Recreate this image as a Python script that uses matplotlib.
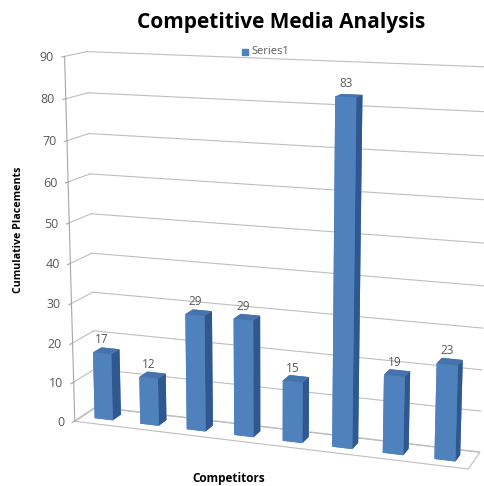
import matplotlib
matplotlib.use("Agg")
import matplotlib.pyplot as plt
import matplotlib.transforms as mtransforms
import numpy as np
from mpl_toolkits.mplot3d.art3d import Poly3DCollection

# ---------------- data ----------------
categories = ["C1", "C2", "C3", "C4", "C5", "C6", "C7", "C8"]
values = [17, 12, 29, 29, 15, 83, 19, 23]
yticks = [0, 10, 20, 30, 40, 50, 60, 70, 80, 90]
series_name = "Series1"
title = "Competitive Media Analysis"
ylabel = "Cumulative Placements"
xlabel = "Competitors"

# ---------------- style ----------------
FRONT = "#4F81BD"
TOP = "#4673AC"
SIDE = "#2F5890"
GRID = "#BEBEBE"
AXC = "#A6A6A6"
TXT = "#595959"
FONT = "Open Sans"

W, H = 485, 486
fig = plt.figure(figsize=(W / 100, H / 100), dpi=100)
side0 = 300
rect0 = [(W - side0) / 2 / W, (H - side0) / 2 / H, side0 / W, side0 / H]
ax = fig.add_axes(rect0, projection="3d", computed_zorder=False)
ax.set_axis_off()

n = len(values)
x0, x1 = -0.5, n - 0.5
y0, y1 = 0.0, 1.0
z0, z1 = yticks[0], yticks[-1]
BAR_W, BAR_D = 0.4, 0.4
yb = (y1 - y0 - BAR_D) / 2


def set_limits():
    ax.set_xlim(x0, x1)
    ax.set_ylim(y0, y1)
    ax.set_zlim(z0, z1)


set_limits()

# ---- camera fit: frame corners -> where they sit in the reference (px) ----
frame3d = np.array([[x0, y0, z1], [x0, y0, z0], [x1, y0, z0],
                    [x0, y1, z0], [x1, y1, z0], [x0, y1, z1]], float)
frame_px = np.array([[62, 57], [77, 420], [467, 468],
                     [95, 408], [480, 452], [88, 51]], float)
targets = np.column_stack([frame_px[:, 0], H - frame_px[:, 1]])

fig.canvas.draw()
T = ax.transData
bb = ax.get_position().transformed(fig.transFigure)
c0 = np.array([(bb.x0 + bb.x1) / 2, (bb.y0 + bb.y1) / 2])
side_act = bb.width
hom = np.column_stack([frame3d, np.ones(len(frame3d))])


def project(p):
    elev, azim, f, ay, az = p
    ax.view_init(elev=elev, azim=azim)
    ax.set_proj_type("persp", focal_length=f)
    ax.set_box_aspect((1, ay, az))
    M = ax.get_proj()
    P = hom @ M.T
    uv = P[:, :2] / P[:, 3:4]
    return T.transform(uv)


def cost(p):
    if p[2] <= 0.05 or p[3] <= 0.005 or p[4] <= 0.1:
        return 1e18, 1, c0
    d = project(p)
    q = d - c0
    qm, tm = q.mean(0), targets.mean(0)
    qc, tc = q - qm, targets - tm
    s = (qc * tc).sum() / (qc * qc).sum()
    c = tm - s * qm
    r = c + s * q - targets
    return (r ** 2).sum(), s, c


best = None
for e in range(6, 36, 4):
    for a in range(-86, -56, 4):
        for f in (0.2, 0.3, 0.45, 0.7, 1.0, 1.6):
            for ay in (0.04, 0.07, 0.1, 0.15):
                for az in (0.6, 0.75, 0.9, 1.05):
                    p = [e, a, f, ay, az]
                    cval = cost(p)[0]
                    if best is None or cval < best[0]:
                        best = (cval, p)

p = list(best[1])
steps = [2.0, 2.0, 0.1, 0.02, 0.08]
cur = cost(p)[0]
for _ in range(60):
    improved = False
    for k in range(5):
        for sgn in (1, -1):
            q = list(p)
            q[k] += sgn * steps[k]
            cq = cost(q)[0]
            if cq < cur:
                p, cur, improved = q, cq, True
    if not improved:
        steps = [s_ / 2 for s_ in steps]

_, s_fit, c_fit = cost(p)
side = s_fit * side_act
ax.set_position([(c_fit[0] - side / 2) / W, (c_fit[1] - side / 2) / H,
                 side / W, side / H])

# ---------------- walls, grid, axis ----------------
floor = Poly3DCollection([[(x0, y0, z0), (x1, y0, z0), (x1, y1, z0), (x0, y1, z0)]],
                         facecolor="white", edgecolor=GRID, linewidth=0.8,
                         zorder=0.5)
ax.add_collection3d(floor)

tick_len = 0.12
for v in yticks:
    ax.plot([x0, x1], [y1, y1], [v, v], color=GRID, lw=0.8, zorder=1)
    ax.plot([x0, x0], [y0, y1], [v, v], color=GRID, lw=0.8, zorder=1)
    ax.plot([x0, x0], [y0 - tick_len, y0], [v, v], color=AXC, lw=0.8, zorder=1)
ax.plot([x0, x0], [y0, y0], [z0, z1], color=AXC, lw=0.8, zorder=1.2)

# ---------------- bars ----------------
xs = np.arange(n) - BAR_W / 2
ys = np.full(n, yb)
zs = np.zeros(n)
face_cols = []
for _ in range(n):
    # faces: -z, +z, -y, +y, -x, +x
    face_cols += [FRONT, TOP, FRONT, FRONT, FRONT, SIDE]
ax.bar3d(xs, ys, zs, BAR_W, BAR_D, values, color=face_cols, shade=False,
         edgecolor="none", zorder=3)

set_limits()

# ---------------- texts placed through the 3D projection ----------------
M_final = ax.get_proj()


def to2d(x, y, z):
    vec = M_final @ np.array([x, y, z, 1.0])
    return vec[0] / vec[3], vec[1] / vec[3]


for v in yticks:
    u, w_ = to2d(x0, y0 - tick_len, v)
    fig.text(u, w_, str(v), ha="right", va="center", fontsize=9,
             color=TXT, family=FONT,
             transform=ax.transData + mtransforms.Affine2D().translate(-8, 0))

for i, v in enumerate(values):
    u, w_ = to2d(i, yb, v)
    fig.text(u, w_, str(v), ha="center", va="bottom", fontsize=8.5,
             color=TXT, family=FONT,
             transform=ax.transData + mtransforms.Affine2D().translate(0, 7))

# ---------------- titles / legend ----------------
fig.text(0.58, (H - 28) / H, title, ha="center", va="baseline",
         fontsize=15, fontweight="bold", family=FONT)
fig.text(19 / W, (H - 230) / H, ylabel, rotation=90, ha="center",
         va="center", fontsize=7.7, fontweight="bold", family=FONT)
fig.text(229 / W, (H - 478) / H, xlabel, ha="center", va="center",
         fontsize=8.5, fontweight="bold", family=FONT)
fig.patches.append(plt.Rectangle((242 / W, (H - 55) / H), 6 / W, 6 / H,
                                 color=FRONT, transform=fig.transFigure,
                                 figure=fig))
fig.text(251 / W, (H - 51) / H, series_name, ha="left", va="center",
         fontsize=8, color=TXT, family=FONT)

fig.savefig("out.png", dpi=100, facecolor="white")
